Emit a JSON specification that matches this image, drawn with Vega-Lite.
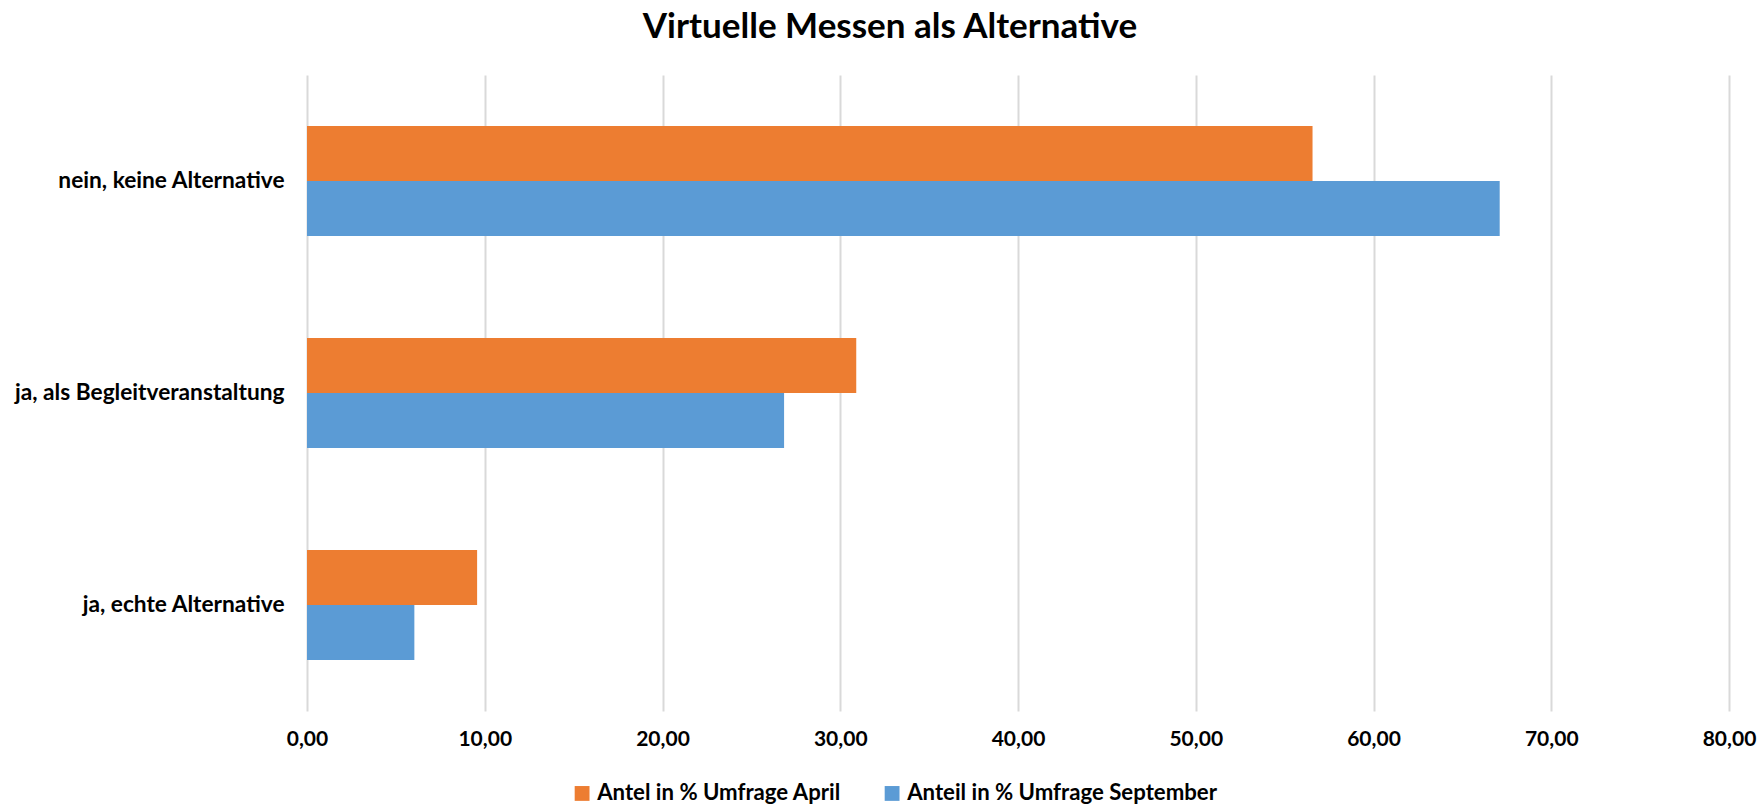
{
  "$schema": "https://vega.github.io/schema/vega-lite/v6.json",
  "width": 1422,
  "height": 636,
  "autosize": {"type": "none"},
  "padding": {"left": 307, "top": 75, "right": 34, "bottom": 93},
  "background": "white",
  "title": {
    "text": "Virtuelle Messen als Alternative",
    "font": "Lato",
    "fontSize": 35,
    "fontWeight": "bold",
    "color": "#000000",
    "anchor": "middle",
    "frame": "group",
    "dx": -128,
    "offset": 30
  },
  "data": {
    "values": [
      {"Kategorie": "nein, keine Alternative", "Serie": "Antel in % Umfrage April", "Wert": 56.57},
      {"Kategorie": "nein, keine Alternative", "Serie": "Anteil in % Umfrage September", "Wert": 67.1},
      {"Kategorie": "ja, als Begleitveranstaltung", "Serie": "Antel in % Umfrage April", "Wert": 30.9},
      {"Kategorie": "ja, als Begleitveranstaltung", "Serie": "Anteil in % Umfrage September", "Wert": 26.84},
      {"Kategorie": "ja, echte Alternative", "Serie": "Antel in % Umfrage April", "Wert": 9.57},
      {"Kategorie": "ja, echte Alternative", "Serie": "Anteil in % Umfrage September", "Wert": 6.04}
    ]
  },
  "mark": {"type": "bar"},
  "encoding": {
    "y": {
      "field": "Kategorie",
      "type": "nominal",
      "sort": ["nein, keine Alternative", "ja, als Begleitveranstaltung", "ja, echte Alternative"],
      "scale": {"paddingInner": 0.48, "paddingOuter": 0.24},
      "axis": {
        "title": null,
        "domain": false,
        "ticks": false,
        "labelPadding": 23,
        "labelFont": "Lato",
        "labelFontSize": 22.7,
        "labelFontWeight": "bold",
        "labelColor": "#000000",
        "labelLimit": 400
      }
    },
    "yOffset": {
      "field": "Serie",
      "type": "nominal",
      "sort": ["Antel in % Umfrage April", "Anteil in % Umfrage September"],
      "scale": {"paddingInner": 0, "paddingOuter": 0}
    },
    "x": {
      "field": "Wert",
      "type": "quantitative",
      "scale": {"domain": [0, 80], "nice": false},
      "axis": {
        "title": null,
        "values": [0, 10, 20, 30, 40, 50, 60, 70, 80],
        "labelExpr": "replace(format(datum.value, '.2f'), '.', ',')",
        "domain": false,
        "ticks": false,
        "grid": true,
        "gridColor": "#d9d9d9",
        "gridWidth": 2,
        "labelPadding": 17,
        "labelFont": "Lato",
        "labelFontSize": 21,
        "labelFontWeight": "bold",
        "labelColor": "#000000",
        "labelFlush": false
      }
    },
    "color": {
      "field": "Serie",
      "type": "nominal",
      "scale": {
        "domain": ["Antel in % Umfrage April", "Anteil in % Umfrage September"],
        "range": ["#ED7D31", "#5B9BD5"]
      },
      "legend": {
        "orient": "none",
        "legendX": 264,
        "legendY": 707,
        "direction": "horizontal",
        "title": null,
        "symbolType": "square",
        "symbolSize": 220,
        "symbolOpacity": 1,
        "symbolStrokeWidth": 0,
        "labelFont": "Lato",
        "labelFontSize": 22.2,
        "labelFontWeight": "bold",
        "labelColor": "#000000",
        "labelOffset": 4,
        "columnPadding": 40,
        "labelLimit": 500
      }
    }
  },
  "config": {"view": {"stroke": null}}
}
